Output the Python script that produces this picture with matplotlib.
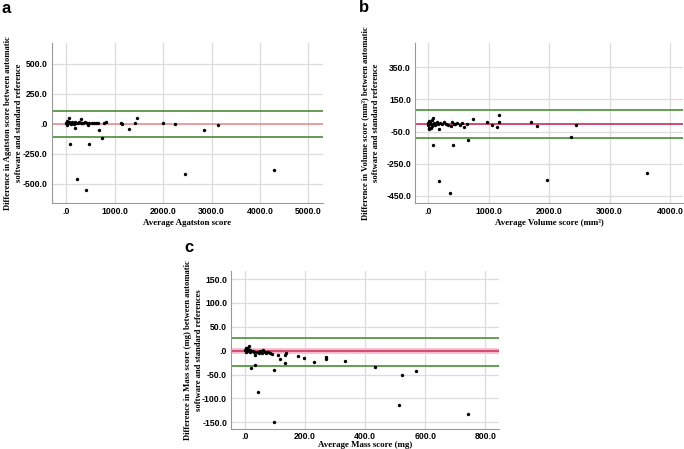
import matplotlib.pyplot as plt
import numpy as np

# panel a: Agatston score
agat_x = [0, 7, 10, 20, 30, 50, 55, 69, 80, 100, 120, 150, 179, 180, 200, 220, 230, 260, 290, 310,
          320, 350, 380, 400, 420, 440, 470, 475, 520, 560, 600, 650, 680, 737, 785, 813,
          1136, 1143, 1288, 1425, 1453, 2004, 2245, 2445, 2851, 3134, 4284]
agat_y = [5, 25, -14, -5, 10, 15, 47, -169, 5, 0, 10, -5, -39, 12, 8, -461, 5, 10, 3, 36,
          8, 5, 10, -550, 6, -11, 4, -169, 8, 2, 5, 8, -53, -117, 8, 14,
          8, -6, -44, 8, 50, 8, -6, -422, -53, -14, -389]
agat_lims = [-108, -3, 106]

# panel b: volume score
vol_x = [0, 5, 10, 15, 17, 25, 30, 39, 45, 60, 70, 83, 83, 100, 120, 140, 160, 182, 182, 200,
         230, 260, 290, 320, 359, 370, 390, 403, 420, 450, 480, 520, 560, 600, 640, 663,
         746, 972, 1050, 1144, 1171, 1171, 1702, 1807, 1967, 2370, 2448, 3613]
vol_y = [-10, 5, -25, 15, -35, 0, 10, -27, -5, 20, -15, 37, -137, 5, -10, 8, 0, -35, -358, 5,
         -5, 10, 0, -8, -431, -15, 12, -135, 0, -5, 5, -12, 2, -20, 0, -102,
         27, 9, -12, -23, 54, 12, 10, -15, -354, -83, -10, -310]
vol_lims = [-89, -4, 84]

# panel c: mass score
mass_x = [0, 2, 4, 6, 8, 10, 13, 15, 18, 20, 25, 30, 32, 34, 40, 45, 42, 50, 55, 60, 65, 70, 75,
          84, 90, 97.5, 97.5, 110, 117, 132, 134, 137, 177, 196, 228, 271, 271, 334, 433,
          512, 521, 570, 741]
mass_y = [2, 5, -3, 6, 0, 4, 9, 1, -2, -36, 0, -3, -30, -8, -2, -5, -87, -1, -4, 1.4, -3, -5, -2,
          -4, -6, -149, -40, -9, -18, -9, -26.5, -5, -11, -15, -23, -14, -18, -22, -33.5,
          -114, -51, -42.5, -133]
mass_lims = [-32, -1.4, 26.5]

GREEN = '#4a8c35'
serif = ['Liberation Serif', 'DejaVu Serif']
sans = ['Liberation Sans', 'DejaVu Sans']


def panel(ax, x, y, lims, red, xlim, ylim, xticks, yticks, xlabel, ylabel, labx,
          halo=False, xpad=3, lpad=2):
    ax.set_xlim(*xlim)
    ax.set_ylim(*ylim)
    ax.set_xticks(xticks)
    ax.set_yticks(yticks)
    ax.set_xticklabels(['.0' if t == 0 else '%.1f' % t for t in xticks],
                       fontsize=6.2, fontweight='bold', family=sans)
    ax.set_yticklabels(['.0' if t == 0 else '%.1f' % t for t in yticks],
                       fontsize=6.2, fontweight='bold', family=sans)
    ax.grid(True, color='#dcdcdc', lw=0.9)
    ax.set_axisbelow(True)
    for s in ['top', 'right']:
        ax.spines[s].set_visible(False)
    for s in ['left', 'bottom']:
        ax.spines[s].set_color('#999999')
        ax.spines[s].set_linewidth(0.8)
    ax.tick_params(length=0, pad=3)
    ax.tick_params(axis='x', pad=xpad)
    ax.axhline(lims[0], color=GREEN, lw=1.2)
    ax.axhline(lims[2], color=GREEN, lw=1.2)
    if halo:
        ax.axhline(lims[1], color='#f4b8c8', lw=4)
    ax.axhline(lims[1], color=red, lw=1.1)
    ax.scatter(x, y, s=6, color='black', zorder=3, linewidths=0)
    ax.set_xlabel(xlabel, fontsize=6.4, fontweight='bold', family=serif, labelpad=lpad)
    ax.set_ylabel(ylabel, fontsize=6.2, fontweight='bold', family=serif, linespacing=1.5)
    ax.yaxis.set_label_coords(labx, 0.5)


fig = plt.figure(figsize=(6.84, 4.49), dpi=100)

ax_a = fig.add_axes([0.076, 0.548, 0.396, 0.356])
panel(ax_a, agat_x, agat_y, agat_lims, '#e58a8a', (-300, 5300), (-660, 670),
      [0, 1000, 2000, 3000, 4000, 5000], [-500, -250, 0, 250, 500],
      'Average Agatston score',
      'Difference in Agatston score between automatic\nsoftware and standard reference', -0.107)

ax_b = fig.add_axes([0.607, 0.548, 0.392, 0.356])
panel(ax_b, vol_x, vol_y, vol_lims, '#c8174a', (-215, 4220), (-496, 502),
      [0, 1000, 2000, 3000, 4000], [-450, -250, -50, 150, 350],
      'Average Volume score (mm³)',
      'Difference in Volume score (mm³) between automatic\nsoftware and standard reference', -0.13)

ax_c = fig.add_axes([0.338, 0.0445, 0.392, 0.352])
panel(ax_c, mass_x, mass_y, mass_lims, '#c8305a', (-46, 846), (-164, 167),
      [0, 200, 400, 600, 800], [-150, -100, -50, 0, 50, 100, 150],
      'Average Mass score (mg)',
      'Difference in Mass score (mg) between automatic\nsoftware and standard references', -0.105,
      halo=True, xpad=2, lpad=0)

fig.text(0.002, 0.971, 'a', fontsize=12, fontweight='bold', family=sans, va='baseline')
fig.text(0.525, 0.973, 'b', fontsize=12, fontweight='bold', family=sans, va='baseline')
fig.text(0.27, 0.439, 'c', fontsize=12, fontweight='bold', family=sans, va='baseline')

plt.savefig('out.png', dpi=100)
